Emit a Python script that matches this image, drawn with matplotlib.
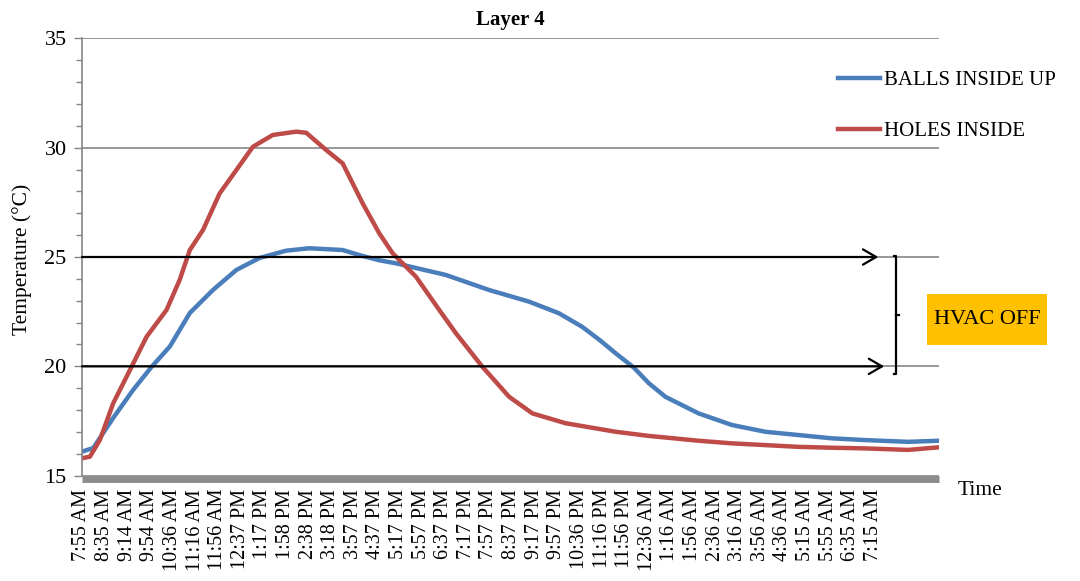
import matplotlib
matplotlib.use("Agg")
import matplotlib.pyplot as plt
from matplotlib.patches import Rectangle

plt.rcParams['font.family'] = ['Liberation Serif', 'DejaVu Serif']

# x tick labels (one every 40 minutes or so)
time_labels = ["7:55 AM", "8:35 AM", "9:14 AM", "9:54 AM", "10:36 AM", "11:16 AM",
               "11:56 AM", "12:37 PM", "1:17 PM", "1:58 PM", "2:38 PM", "3:18 PM",
               "3:57 PM", "4:37 PM", "5:17 PM", "5:57 PM", "6:37 PM", "7:17 PM",
               "7:57 PM", "8:37 PM", "9:17 PM", "9:57 PM", "10:36 PM", "11:16 PM",
               "11:56 PM", "12:36 AM", "1:16 AM", "1:56 AM", "2:36 AM", "3:16 AM",
               "3:56 AM", "4:36 AM", "5:15 AM", "5:55 AM", "6:35 AM", "7:15 AM"]

# BALLS INSIDE UP (position in label steps, temperature)
balls_x = [0.0, 0.5, 1.38, 2.26, 3.08, 3.88, 4.77, 5.79, 6.83, 7.86, 9.03, 10.06,
           11.52, 12.40, 13.15, 13.89, 16.09, 18.01, 19.77, 21.09, 22.12, 22.9,
           23.60, 24.4, 25.07, 25.80, 27.27, 28.74, 30.22, 31.69, 33.16, 34.63,
           36.54, 37.9]
balls_t = [16.10, 16.27, 17.64, 18.92, 19.98, 20.90, 22.44, 23.49, 24.41, 24.96,
           25.29, 25.40, 25.32, 25.05, 24.85, 24.71, 24.18, 23.49, 22.96, 22.43,
           21.81, 21.2, 20.60, 19.95, 19.23, 18.61, 17.85, 17.32, 17.01, 16.86,
           16.71, 16.63, 16.55, 16.60]

# HOLES INSIDE
holes_x = [0.0, 0.35, 0.79, 1.38, 2.12, 2.86, 3.74, 4.32, 4.77, 5.35, 6.09, 6.83,
           7.56, 8.44, 9.47, 9.92, 10.80, 11.53, 12.41, 13.15, 13.74, 14.77, 15.80,
           16.54, 17.71, 18.89, 19.92, 21.39, 23.60, 25.07, 27.27, 28.74, 30.22,
           31.69, 33.16, 34.63, 36.54, 37.9]
holes_t = [15.80, 15.87, 16.63, 18.31, 19.83, 21.36, 22.58, 23.95, 25.32, 26.23,
           27.91, 28.98, 30.04, 30.58, 30.73, 30.68, 29.89, 29.28, 27.46, 26.08,
           25.17, 24.10, 22.58, 21.51, 19.98, 18.61, 17.85, 17.40, 17.01, 16.82,
           16.60, 16.48, 16.40, 16.32, 16.28, 16.25, 16.18, 16.30]

hvac_on = 25
hvac_off = 20

blue = "#4A7EBB"
red = "#BE4B48"
grey = "#868686"

fig = plt.figure(figsize=(10.8, 5.81), dpi=100)
ax = fig.add_axes([0.0759, 0.1812, 0.7935, 0.7529])

ax.plot(balls_x, balls_t, color=blue, lw=3.2, label="BALLS INSIDE UP")
ax.plot(holes_x, holes_t, color=red, lw=3.2, label="HOLES INSIDE")

ax.set_xlim(0, 37.9)
ax.set_ylim(15, 35)
ax.set_yticks([15, 20, 25, 30, 35])
ax.set_yticks(range(15, 36), minor=True)
ax.set_xticks(range(len(time_labels)))
ax.set_xticklabels(time_labels)
ax.tick_params(axis="x", length=0, pad=7, labelrotation=90, labelsize=14.5)
ax.tick_params(axis="y", which="major", length=6, width=1, color=grey, labelsize=16, pad=5)
ax.tick_params(axis="y", which="minor", length=4, width=1, color=grey)
ax.grid(axis="y", which="major", color=grey, lw=1.2)
ax.set_axisbelow(True)

for side in ["top", "right"]:
    ax.spines[side].set_visible(False)
ax.spines["left"].set_color(grey)
ax.spines["left"].set_linewidth(1.2)
ax.spines["bottom"].set_color("#8c8c8c")
ax.spines["bottom"].set_linewidth(5)
ax.spines["bottom"].set_capstyle("butt")
ax.spines["bottom"].set_position(("outward", 2.5))

ax.set_title("Layer 4", fontsize=15, fontweight="bold", pad=9.5)
fig.text(0.0204, 0.554, "Temperature (\u00b0C)", rotation=90, ha="center", va="center",
         fontsize=15.5)
fig.text(0.9074, 0.155, "Time", ha="center", va="center", fontsize=15.5)

# HVAC on/off arrows
ax.annotate("", xy=(35.22, hvac_on), xytext=(0, hvac_on),
            arrowprops=dict(arrowstyle="->,head_length=0.95,head_width=0.55",
                            color="black", lw=1.6, mutation_scale=10,
                            shrinkA=0, shrinkB=0))
ax.annotate("", xy=(35.48, hvac_off), xytext=(0, hvac_off),
            arrowprops=dict(arrowstyle="->,head_length=0.95,head_width=0.55",
                            color="black", lw=1.6, mutation_scale=10,
                            shrinkA=0, shrinkB=0))

# bracket
ax.plot([35.9, 36.0, 36.0, 35.9], [25.05, 25.05, 19.65, 19.65], color="black", lw=1.6)
ax.plot([36.0, 36.13], [22.35, 22.35], color="black", lw=1.6)

fig.patches.append(Rectangle((0.8583, 0.4062), 0.1111, 0.0878, transform=fig.transFigure,
                             facecolor="#FFC000", edgecolor="none"))
fig.text(0.9139, 0.4501, "HVAC OFF", ha="center", va="center", fontsize=16)

ax.legend(loc="center left", bbox_to_anchor=(0.7759, 0.8176), bbox_transform=fig.transFigure,
          frameon=False, fontsize=15, handlelength=2.0, handletextpad=0.2,
          labelspacing=1.5, borderpad=0, borderaxespad=0)

fig.savefig("out.png", dpi=100)
